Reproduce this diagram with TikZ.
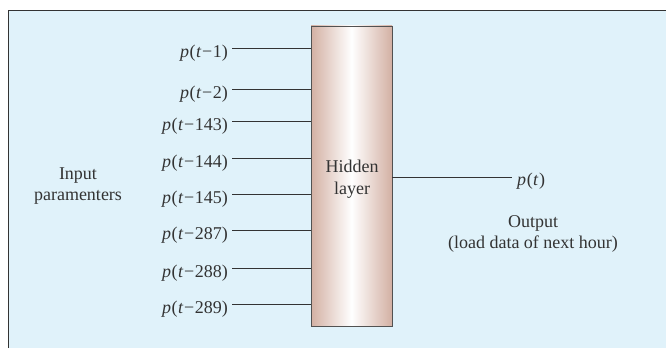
\documentclass[tikz,border=0pt]{standalone}
\usepackage{fontspec}
\setmainfont{Liberation Serif}
\definecolor{panelbg}{HTML}{E0F2FA}
\definecolor{boxedge}{HTML}{D3B0A3}
\definecolor{ink}{HTML}{333333}
\newcommand{\pv}[1]{\textit{p}\kern0.6pt(\kern0.4pt\textit{t}\kern0.6pt−\kern0.6pt#1)}
\begin{document}
\begin{tikzpicture}[x=1pt,y=1pt,
  lab/.style={text=ink,font=\fontsize{18}{21.5}\selectfont,inner sep=0pt},
  inlab/.style={lab,anchor=east},
  wire/.style={draw=ink,line width=0.9pt}]
\useasboundingbox (0,0) rectangle (666,348);
\fill[panelbg] (8,0) rectangle (666,337);
\draw[ink,line width=1pt] (8,0) -- (8,337) -- (666,337);
% hidden layer box
\node[draw=ink!85,line width=0.9pt,minimum width=81pt,minimum height=300pt,inner sep=0pt,
  left color=boxedge,right color=boxedge,middle color=white] (box) at (351.5,172) {};
\node[lab,align=center] (hid) at (352,169) {Hidden\\layer};
% inputs
\foreach \n/\t/\y in {1/1/48,2/2/89,3/143/121,4/144/158,5/145/194,6/287/230,7/288/268,8/289/304}{
  \node[inlab] (in\n) at (228,348-\y-5) {\pv{\t}};
  \coordinate (s\n) at (232,348-\y);
  \draw[wire] (s\n) -- (s\n -| box.west);
}
\node[lab,align=center] (inp) at (78,162) {Input\\paramenters};
% output
\node[lab,anchor=west] (out) at (517,167) {\textit{p}\kern0.6pt(\kern0.4pt\textit{t}\kern0.6pt)};
\coordinate (o1) at (512,171);
\draw[wire] (o1 -| box.east) -- (o1);
\node[lab,align=center] (outtxt) at (533,114) {Output\\(load data of next hour)};
\end{tikzpicture}
\end{document}
